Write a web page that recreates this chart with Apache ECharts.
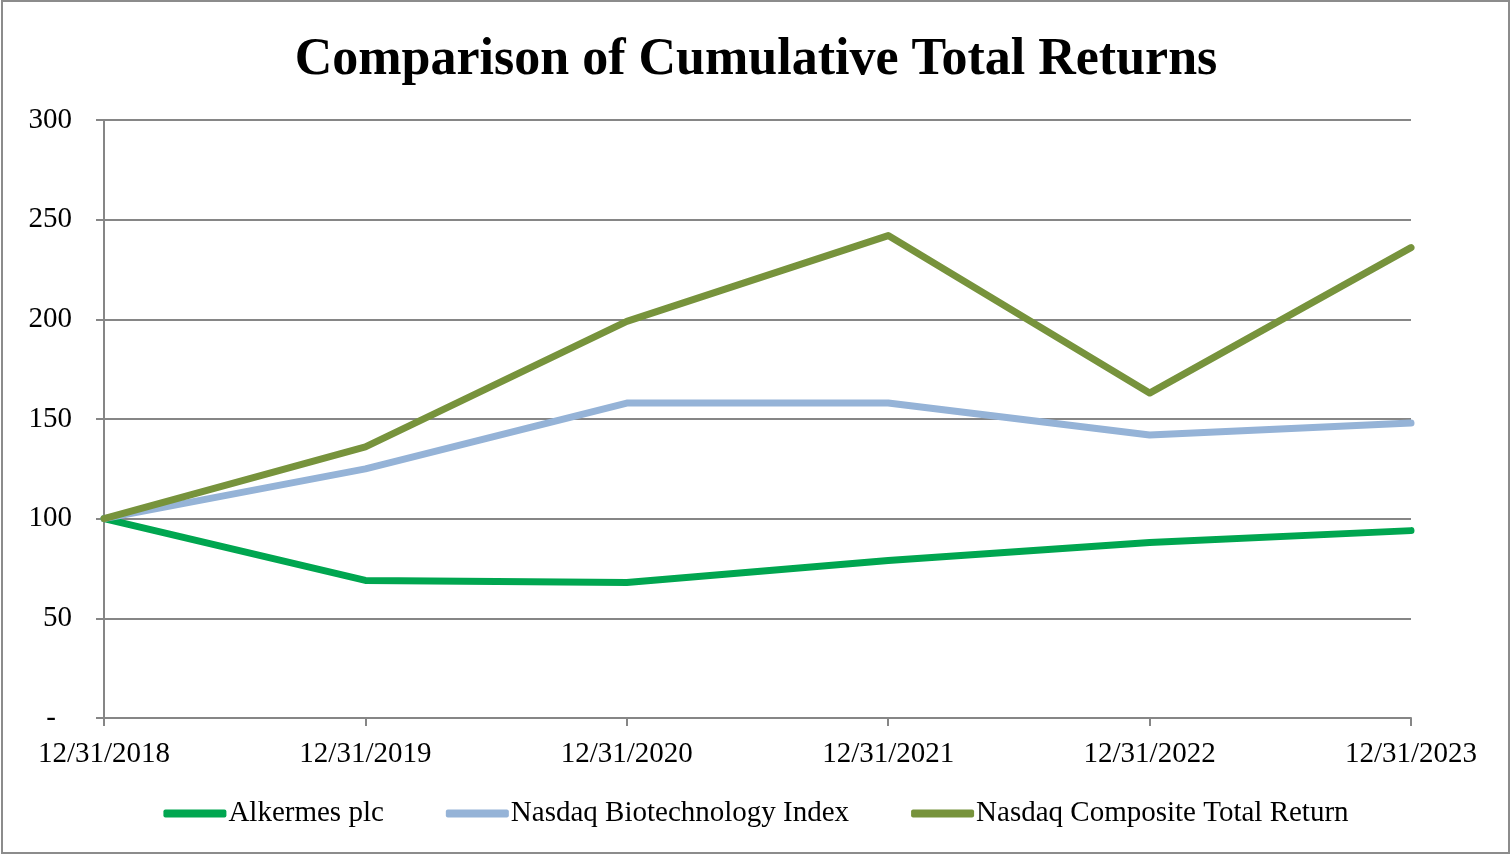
<!DOCTYPE html>
<html><head><meta charset="utf-8">
<script src="https://cdn.jsdelivr.net/npm/echarts@6/dist/echarts.min.js"></script>
<style>html,body{margin:0;padding:0;background:#fff}#c{width:1512px;height:856px}</style>
</head><body><div id="c"></div>
<script>
const categories = ['12/31/2018','12/31/2019','12/31/2020','12/31/2021','12/31/2022','12/31/2023'];
const alkermes = [100, 69, 68, 79, 88, 94];
const biotech = [100, 125, 158, 158, 142, 148];
const composite = [100, 136, 199, 242, 163, 236];
const yTicks = [0, 50, 100, 150, 200, 250, 300];

const chart = echarts.init(document.getElementById('c'));
const font = '"Liberation Serif", "Times New Roman", serif';
const mk = (name, data, color) => ({
  name, type: 'line', data, symbol: 'none', smooth: false,
  lineStyle: { width: 7, color, cap: 'round', join: 'round' },
  itemStyle: { color }
});
chart.setOption({
  animation: false,
  backgroundColor: '#fff',
  title: {
    text: 'Comparison of Cumulative Total Returns',
    left: 'center', top: 30,
    textStyle: { fontFamily: font, fontWeight: 'bold', fontSize: 52, color: '#000' }
  },
  graphic: [{
    type: 'rect', shape: { x: 2, y: 1, width: 1507, height: 852 },
    style: { fill: 'none', stroke: '#8c8c8c', lineWidth: 2 }, silent: true
  }],
  grid: { left: 104, right: 101, top: 120, bottom: 138 },
  legend: {
    bottom: 23, left: 'center',
    itemWidth: 63, itemHeight: 8, itemGap: 62,
    icon: 'roundRect',
    textStyle: { fontFamily: font, fontSize: 29, color: '#000', padding: [0, 0, 0, -3] },
    data: ['Alkermes plc', 'Nasdaq Biotechnology Index', 'Nasdaq Composite Total Return']
  },
  xAxis: {
    type: 'category', data: categories, boundaryGap: false,
    axisLine: { lineStyle: { color: '#868686', width: 2 } },
    axisTick: { show: true, length: 8, lineStyle: { color: '#868686', width: 2 } },
    axisLabel: { margin: 22, fontFamily: font, fontSize: 29, color: '#000' },
    splitLine: { show: false }
  },
  yAxis: {
    type: 'value', min: 0, max: 300, interval: 50,
    axisLine: { show: true, lineStyle: { color: '#868686', width: 2 } },
    axisTick: { show: true, length: 8, lineStyle: { color: '#868686', width: 2 } },
    splitLine: { lineStyle: { color: '#868686', width: 2 } },
    axisLabel: {
      margin: 32, fontFamily: font, fontSize: 29, color: '#000',
      formatter: v => v === yTicks[0] ? '{d|-}' : String(v),
      rich: { d: { fontFamily: font, fontSize: 29, color: '#000', padding: [0, 16, 0, 0] } }
    }
  },
  series: [
    mk('Alkermes plc', alkermes, '#00A650'),
    mk('Nasdaq Biotechnology Index', biotech, '#95B3D7'),
    mk('Nasdaq Composite Total Return', composite, '#77933C')
  ]
});
</script></body></html>
